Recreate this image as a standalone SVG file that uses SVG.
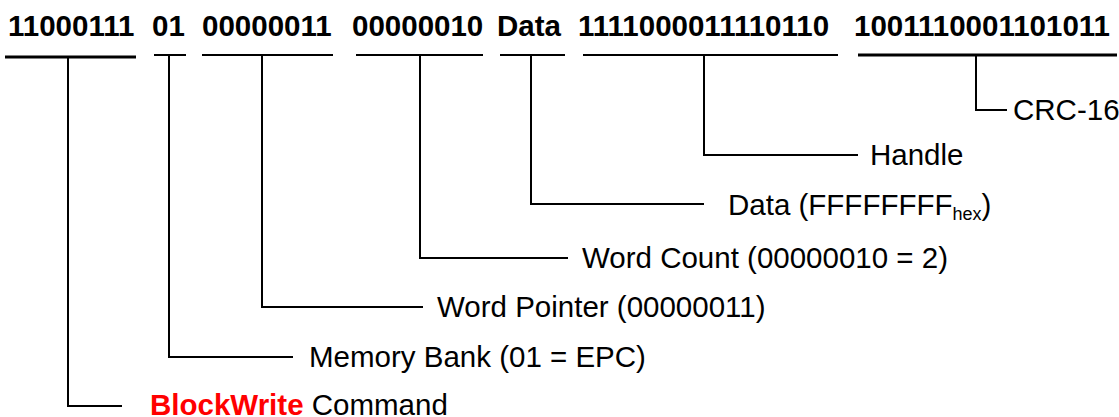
<svg xmlns="http://www.w3.org/2000/svg" width="1119" height="417" viewBox="0 0 1119 417">
  <style>
    .field { font-family: "Liberation Sans", Arial, sans-serif; font-size: 29.5px; font-weight: bold; fill: #000; }
    .label { font-family: "Liberation Sans", Arial, sans-serif; font-size: 29.5px; fill: #000; }
    .cmd { font-weight: bold; fill: #ff0000; }
    .sub { font-size: 18px; }
    .bar { stroke: #000; stroke-width: 2; fill: none; }
    .bar-thick { stroke: #000; stroke-width: 3; fill: none; }
    .lead { stroke: #000; stroke-width: 2; fill: none; }
  </style>
  <rect width="1119" height="417" fill="#fff"/>

  <!-- bit fields of the command frame -->
  <g id="fields">
    <text class="field" x="8" y="36">11000111</text>
    <text class="field" x="152" y="36">01</text>
    <text class="field" x="202" y="36">00000011</text>
    <text class="field" x="352" y="36">00000010</text>
    <text class="field" x="497" y="36">Data</text>
    <text class="field" x="578" y="36">1111000011110110</text>
    <text class="field" x="854" y="36">1001110001101011</text>
  </g>

  <!-- brackets under each field and the leader lines to the labels -->
  <g id="connectors">
    <line class="bar-thick" x1="5" y1="57" x2="136" y2="57"/>
    <line class="bar" x1="154" y1="55" x2="186" y2="55"/>
    <line class="bar" x1="202" y1="55" x2="333" y2="55"/>
    <line class="bar" x1="356" y1="55" x2="483" y2="55"/>
    <line class="bar" x1="500" y1="55" x2="565" y2="55"/>
    <line class="bar" x1="583" y1="55" x2="838" y2="55"/>
    <line class="bar-thick" x1="858" y1="55" x2="1117" y2="55"/>

    <polyline class="lead" points="68,57 68,406 122,406"/>
    <polyline class="lead" points="169,55 169,357 293,357"/>
    <polyline class="lead" points="262,55 262,307 423,307"/>
    <polyline class="lead" points="420,55 420,258 568,258"/>
    <polyline class="lead" points="531,55 531,204 704,204"/>
    <polyline class="lead" points="704,55 704,155 858,155"/>
    <polyline class="lead" points="976,55 976,110 1007,110"/>
  </g>

  <g id="command">
    <text class="label" x="150" y="415"><tspan class="cmd">BlockWrite</tspan> Command</text>
  </g>
  <g id="memory-bank">
    <text class="label" x="309" y="367">Memory Bank (01 = EPC)</text>
  </g>
  <g id="word-pointer">
    <text class="label" x="437" y="317">Word Pointer (00000011)</text>
  </g>
  <g id="word-count">
    <text class="label" x="582" y="268">Word Count (00000010 = 2)</text>
  </g>
  <g id="data">
    <text class="label" x="728" y="215">Data (FFFFFFFF<tspan class="sub" dy="5">hex</tspan><tspan dy="-5">)</tspan></text>
  </g>
  <g id="handle">
    <text class="label" x="870" y="165">Handle</text>
  </g>
  <g id="crc">
    <text class="label" x="1013" y="120">CRC-16</text>
  </g>
</svg>
